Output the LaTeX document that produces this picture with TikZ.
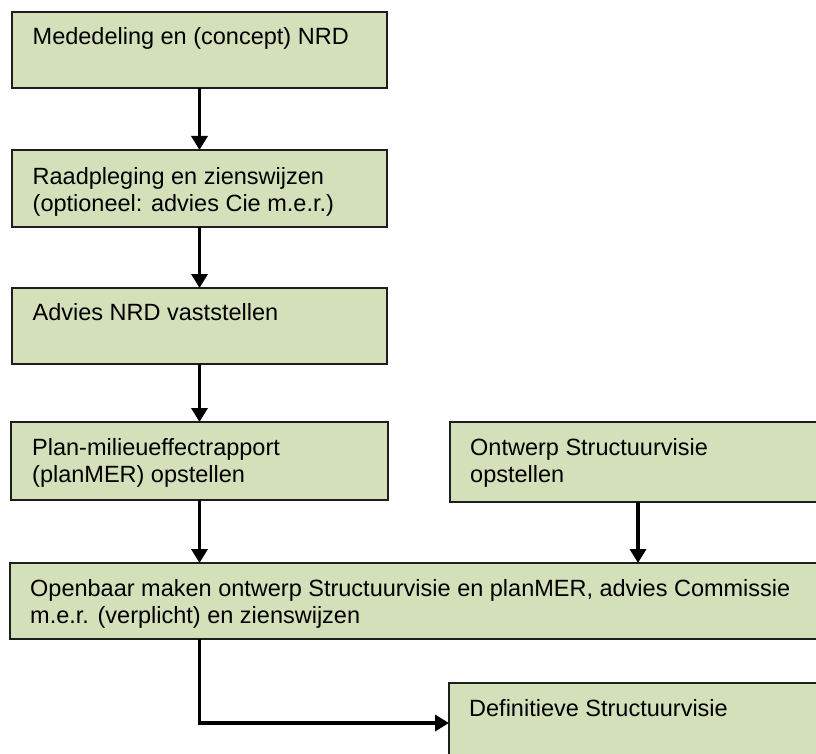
\documentclass[tikz,border=0pt]{standalone}
\usepackage{fontspec}
\setmainfont{Liberation Sans}
\usetikzlibrary{arrows.meta,calc}
\definecolor{boxfill}{HTML}{D4E0BA}
\definecolor{boxline}{HTML}{1E1E1E}
\tikzset{
  box/.style={draw=boxline, fill=boxfill, line width=2pt, rectangle, anchor=north west, inner sep=0pt, outer sep=0pt},
  txt/.style={anchor=north west, inner sep=0pt, align=left, font=\fontsize{23.5}{27}\selectfont, text=black},
  flow/.style={line width=3.5pt, draw=black, -{Triangle[width=16pt,length=14pt]}}
}
\begin{document}
\begin{tikzpicture}[x=1pt,y=1pt]
\useasboundingbox (0,0) rectangle (816,-754);
\clip (0,0) rectangle (816,-754);
\node[box, minimum width=375pt, minimum height=76pt] (b1) at (12,-12) {};
\node[box, minimum width=375pt, minimum height=77pt] (b2) at (12,-150) {};
\node[box, minimum width=375pt, minimum height=76pt] (b3) at (12,-288) {};
\node[box, minimum width=377pt, minimum height=78pt] (b4) at (11,-422) {};
\node[box, minimum width=420pt, minimum height=80pt] (b5) at (450,-422) {};
\node[box, minimum width=830pt, minimum height=76pt] (b6) at (10,-563) {};
\node[box, minimum width=420pt, minimum height=90pt] (b7) at (449,-683) {};

\node[txt] (t1) at ($(b1.north west)+(20.5,-13.5)$) {\strut Mededeling en (concept) NRD};
\node[txt] (t2) at ($(b2.north west)+(20.5,-15.5)$) {\strut Raadpleging en zienswijzen\\(optioneel: advies Cie m.e.r.)};
\node[txt] (t3) at ($(b3.north west)+(20.5,-13.5)$) {\strut Advies NRD vaststellen};
\node[txt] (t4) at ($(b4.north west)+(21,-14)$) {\strut Plan-milieueffectrapport\\(planMER) opstellen};
\node[txt] (t5) at ($(b5.north west)+(20,-14)$) {\strut Ontwerp Structuurvisie\\opstellen};
\node[txt] (t6) at ($(b6.north west)+(20,-14)$) {\strut Openbaar maken ontwerp Structuurvisie en planMER, advies Commissie\\m.e.r. (verplicht) en zienswijzen};
\node[txt] (t7) at ($(b7.north west)+(20,-14)$) {\strut Definitieve Structuurvisie};

\coordinate (s5) at ($(b5.south west)+(188,0)$);
\coordinate (c6) at (b4.south |- b6.south);
\coordinate (e7) at ($(b7.north west)+(0,-40)$);
\draw[flow] (b1.south) -- (b2.north);
\draw[flow] (b2.south) -- (b3.north);
\draw[flow] (b3.south) -- (b4.north);
\draw[flow] (b4.south) -- (b4.south |- b6.north);
\draw[flow] (s5) -- (s5 |- b6.north);
\draw[flow] (c6) |- (e7);
\end{tikzpicture}
\end{document}
